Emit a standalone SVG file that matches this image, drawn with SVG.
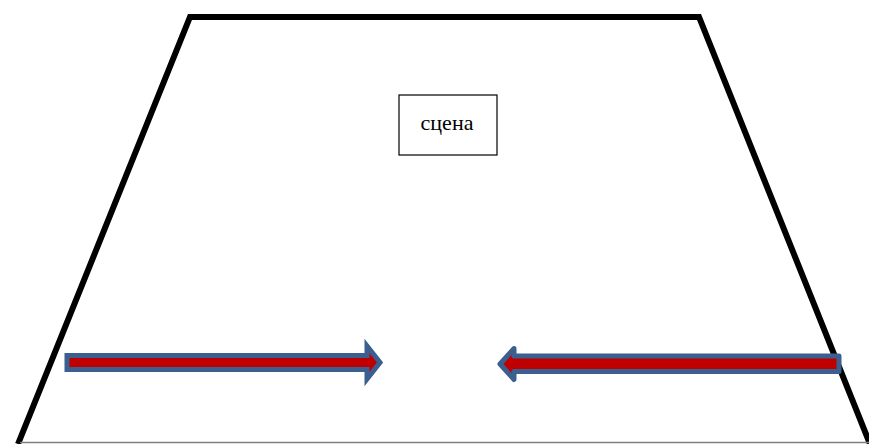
<svg xmlns="http://www.w3.org/2000/svg" width="869" height="444" viewBox="0 0 869 444">
<defs>
<style>
.hall{fill:none;stroke:#000;stroke-width:6;stroke-linejoin:miter}
.box{fill:#fff;stroke:#000;stroke-width:1.2}
.lbl{font-family:"Liberation Serif","Times New Roman",serif;font-size:22px;fill:#000;text-anchor:middle}
.arr{fill:#C00000;stroke:#3B5F8E;stroke-width:5}
</style>
</defs>
<rect width="869" height="444" fill="#fff"/>
<g id="hall">
<polyline class="hall" points="18,444 190,17 699,17 872,449"/>
<line x1="20" y1="442.5" x2="869" y2="442.5" stroke="#7f7f7f" stroke-width="1.5"/>
</g>
<g id="stage">
<rect class="box" x="399" y="95" width="98" height="60"/>
<text class="lbl" x="447" y="130">сцена</text>
</g>
<g id="connectors">
<polygon class="arr" stroke-linejoin="miter" points="67,355.5 367,355.5 367,346 380,362.5 367,379 367,369.5 67,369.5"/>
<polygon class="arr" stroke-linejoin="round" points="839,356 514,356 514,348.5 500,364 514,379.5 514,371.5 839,371.5"/>
</g>
</svg>
